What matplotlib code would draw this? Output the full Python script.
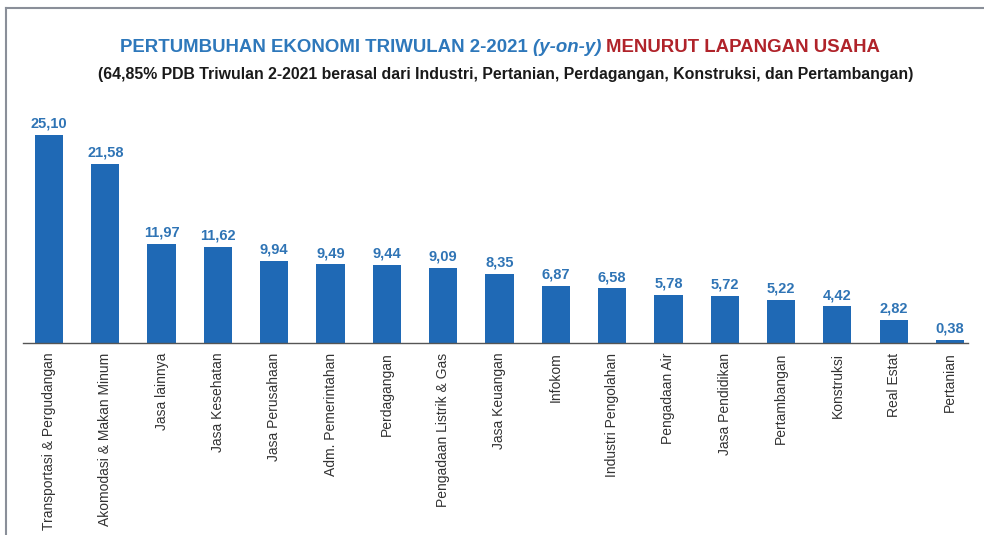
import matplotlib.pyplot as plt
from matplotlib.lines import Line2D

categories = [
    "Transportasi & Pergudangan", "Akomodasi & Makan Minum", "Jasa lainnya",
    "Jasa Kesehatan", "Jasa Perusahaan", "Adm. Pemerintahan", "Perdagangan",
    "Pengadaan Listrik & Gas", "Jasa Keuangan", "Infokom", "Industri Pengolahan",
    "Pengadaan Air", "Jasa Pendidikan", "Pertambangan", "Konstruksi",
    "Real Estat", "Pertanian",
]
growth = [25.10, 21.58, 11.97, 11.62, 9.94, 9.49, 9.44, 9.09, 8.35, 6.87,
          6.58, 5.78, 5.72, 5.22, 4.42, 2.82, 0.38]

bar_color = "#1f69b5"
label_blue = "#2f74b5"
title_blue = "#2e78bb"
title_red = "#b0232a"
font = ["Liberation Sans", "DejaVu Sans"]

fig = plt.figure(figsize=(9.84, 5.35), dpi=100)
ax = fig.add_axes([0.0234, 0.3589, 0.9604, 0.4339])

x = list(range(len(categories)))
ax.bar(x, growth, width=0.5, color=bar_color, zorder=2)
ax.set_xlim(-0.46, 16.32)
ax.set_ylim(0, 28)

for xi, v in zip(x, growth):
    ax.annotate(f"{v:.2f}".replace(".", ","), (xi, v), xytext=(0, 3),
                textcoords="offset points", ha="center", va="bottom",
                fontsize=10.5, fontweight="bold", color=label_blue, family=font)

ax.set_xticks(x)
ax.set_xticklabels(categories, rotation=90, fontsize=10, family=font,
                   color="#333333")
ax.tick_params(axis="x", length=0, pad=7)
ax.set_yticks([])
for s in ["top", "right", "left"]:
    ax.spines[s].set_visible(False)
ax.spines["bottom"].set_color("#555555")
ax.spines["bottom"].set_linewidth(1.0)

fig.canvas.draw()
renderer = fig.canvas.get_renderer()

# title in two colours, pieces placed side by side and fitted to 120..880 px
pieces = [
    ("PERTUMBUHAN EKONOMI TRIWULAN 2-2021 ", title_blue, "normal"),
    ("(y-on-y) ", title_blue, "italic"),
    ("MENURUT LAPANGAN USAHA", title_red, "normal"),
]
texts = []
for txt, col, sty in pieces:
    t = fig.text(0, 0.912, txt, color=col, fontsize=14, fontweight="bold",
                 style=sty, family=font, va="center", ha="left")
    texts.append(t)
total = sum(t.get_window_extent(renderer).width for t in texts)
size = 14 * 760 / total
for t in texts:
    t.set_fontsize(size)
widths = [t.get_window_extent(renderer).width for t in texts]
start = 500 - sum(widths) / 2
for t, w in zip(texts, widths):
    t.set_x(start / 984)
    start += w

sub = fig.text(506 / 984, 0.86,
               "(64,85% PDB Triwulan 2-2021 berasal dari Industri, Pertanian, Perdagangan, Konstruksi, dan Pertambangan)",
               ha="center", va="center", fontsize=12, fontweight="bold", family=font,
               color="#1a1a1a")
sub.set_fontsize(12 * 812 / sub.get_window_extent(renderer).width)

# frame lines at top and left
fig.add_artist(Line2D([6 / 984, 1.0], [1 - 8 / 535, 1 - 8 / 535],
                      transform=fig.transFigure, color="#8a8f99", lw=1.5))
fig.add_artist(Line2D([6 / 984, 6 / 984], [0, 1 - 8 / 535],
                      transform=fig.transFigure, color="#8a8f99", lw=1.5))

fig.savefig("out.png", dpi=100)
